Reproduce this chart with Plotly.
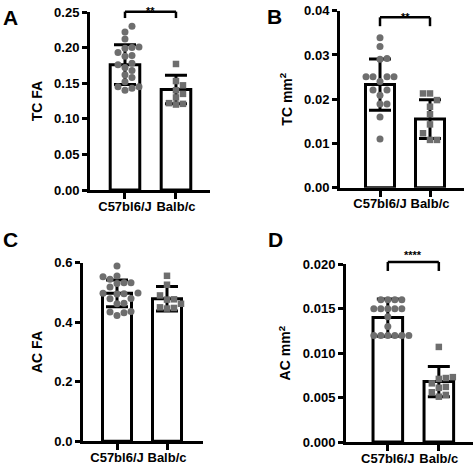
import plotly.graph_objects as go

W, H = 475, 465

groups = ["C57bl6/J", "Balb/c"]

# Panel A: TC FA
a_c57 = [0.230, 0.222, 0.212, 0.200, 0.199, 0.201, 0.193, 0.188, 0.189, 0.178,
         0.176, 0.172, 0.168, 0.162, 0.158, 0.152, 0.145, 0.143, 0.140, 0.145]
a_balb = [0.177, 0.153, 0.147, 0.140, 0.135, 0.130, 0.122, 0.120, 0.121]
a_mean = [0.176, 0.141]
a_sd = [0.028, 0.020]

# Panel B: TC mm2
b_c57 = [0.0339, 0.0319, 0.0292, 0.0290, 0.0251, 0.0251, 0.0251, 0.0251,
         0.0240, 0.0221, 0.0221, 0.0209, 0.0189, 0.0189, 0.0160, 0.0110]
b_balb = [0.0213, 0.0213, 0.0198, 0.0183, 0.0166, 0.0143, 0.0123, 0.0108, 0.0108]
b_mean = [0.0233, 0.0155]
b_sd = [0.0058, 0.0044]

# Panel C: AC FA
c_c57 = [0.589, 0.555, 0.553, 0.544, 0.533, 0.533, 0.530, 0.518, 0.497, 0.496,
         0.495, 0.498, 0.479, 0.480, 0.462, 0.464, 0.434, 0.436, 0.432, 0.423]
c_balb = [0.556, 0.526, 0.490, 0.477, 0.476, 0.462, 0.450, 0.448, 0.446]
c_mean = [0.497, 0.479]
c_sd = [0.045, 0.041]

# Panel D: AC mm2
d_c57 = [0.0160, 0.0160, 0.0160, 0.0160, 0.0150, 0.0150, 0.0150, 0.0150, 0.0150,
         0.0141, 0.0130, 0.0120, 0.0120, 0.0120, 0.0120, 0.0120, 0.0120]
d_balb = [0.0107, 0.0073, 0.0072, 0.0071, 0.0066, 0.0062, 0.0061, 0.0056, 0.0053, 0.0051]
d_mean = [0.0140, 0.0068]
d_sd = [0.0021, 0.0017]

# significance: (y of bracket, y of bracket feet, y of stars, label)
sig_a = (0.2505, 0.2415, 0.2625, "**")
sig_b = (0.0385, 0.0365, 0.0404, "**")
sig_d = (0.02026, 0.01925, 0.0211, "****")

panels = [
    dict(letter="A", title="TC FA", c57=a_c57, balb=a_balb, mean=a_mean, sd=a_sd,
         yr=[0, 0.25], dt=0.05, fmt=".2f", sig=sig_a,
         px=(90, 210), py=(12, 190), xr=[-0.686, 1.667], lpos=(1, 4)),
    dict(letter="B", title="TC mm<sup>2</sup>", c57=b_c57, balb=b_balb, mean=b_mean, sd=b_sd,
         yr=[0, 0.04], dt=0.01, fmt=".2f", sig=sig_b,
         px=(340, 464), py=(10.7, 187.7), xr=[-0.8, 1.68], lpos=(265, 3)),
    dict(letter="C", title="AC FA", c57=c_c57, balb=c_balb, mean=c_mean, sd=c_sd,
         yr=[0, 0.6], dt=0.2, fmt=".1f", sig=None,
         px=(83, 203), py=(262.7, 441.3), xr=[-0.68, 1.72], lpos=(1, 226)),
    dict(letter="D", title="AC mm<sup>2</sup>", c57=d_c57, balb=d_balb, mean=d_mean, sd=d_sd,
         yr=[0, 0.020], dt=0.005, fmt=".3f", sig=sig_d,
         px=(346, 473), py=(264.3, 442), xr=[-0.82, 1.67], lpos=(266, 226)),
]

DOT = "#6e6e6e"
FONT = "Liberation Sans, Arial, sans-serif"


def swarm(vals, py_per_unit, px_per_unit, diam):
    offs = [0.0] * len(vals)
    placed = []
    order = sorted(range(len(vals)), key=lambda i: vals[i])
    cands = [0.0]
    for k in range(1, 12):
        cands += [k * diam, -k * diam]
    for i in order:
        yv = vals[i] * py_per_unit
        for c in cands:
            if all((c - p) ** 2 + (yv - q) ** 2 >= (diam * 0.98) ** 2 for p, q in placed):
                offs[i] = c / px_per_unit
                placed.append((c, yv))
                break
    return offs


fig = go.Figure()
layout = dict(width=W, height=H, margin=dict(l=0, r=0, t=0, b=0), autosize=False,
              plot_bgcolor="white", paper_bgcolor="white", showlegend=False,
              font=dict(family=FONT, color="black", size=13, weight="bold"),
              shapes=[], annotations=[])

for n, p in enumerate(panels, start=1):
    xa = "x" if n == 1 else f"x{n}"
    ya = "y" if n == 1 else f"y{n}"
    xdom = [p["px"][0] / W, p["px"][1] / W]
    ydom = [1 - p["py"][1] / H, 1 - p["py"][0] / H]
    plot_h = p["py"][1] - p["py"][0]
    plot_w = p["px"][1] - p["px"][0]
    py_unit = plot_h / (p["yr"][1] - p["yr"][0])
    px_unit = plot_w / (p["xr"][1] - p["xr"][0])

    fig.add_trace(go.Bar(
        x=[0, 1], y=p["mean"], width=0.58, xaxis=xa, yaxis=ya,
        marker=dict(color="white", line=dict(color="black", width=3)),
        error_y=dict(type="data", array=p["sd"], symmetric=True, color="black",
                     thickness=3, width=11),
    ))
    for gi, (vals, sym, sz) in enumerate([(p["c57"], "circle", 7), (p["balb"], "square", 6.5)]):
        offs = swarm(vals, py_unit, px_unit, 7.0)
        fig.add_trace(go.Scatter(
            x=[gi + o for o in offs], y=vals, mode="markers", xaxis=xa, yaxis=ya,
            marker=dict(symbol=sym, size=sz, color=DOT, line=dict(width=0)),
            cliponaxis=False,
        ))

    nt = int(round((p["yr"][1] - p["yr"][0]) / p["dt"]))
    tv = [p["yr"][0] + k * p["dt"] for k in range(nt + 1)]
    layout["xaxis" if n == 1 else f"xaxis{n}"] = dict(
        domain=xdom, range=p["xr"], anchor=ya, tickmode="array", tickvals=[0, 1],
        ticktext=groups, showline=True, linecolor="black", linewidth=3,
        ticks="outside", ticklen=6, tickwidth=3, tickcolor="black",
        ticklabelstandoff=-4,
        showgrid=False, zeroline=False, automargin=False, fixedrange=True,
        tickfont=dict(family=FONT, size=13, color="black", weight="bold"),
    )
    layout["yaxis" if n == 1 else f"yaxis{n}"] = dict(
        domain=ydom, range=p["yr"], anchor=xa, tickmode="array", tickvals=tv,
        ticktext=[format(v, p["fmt"]) for v in tv], showline=True, linecolor="black",
        linewidth=3, ticks="outside", ticklen=5, tickwidth=3, tickcolor="black",
        showgrid=False, zeroline=False, automargin=False, fixedrange=True,
        tickfont=dict(family=FONT, size=13, color="black", weight="bold"),
        title=dict(text=p["title"], standoff=9,
                   font=dict(family=FONT, size=14, color="black", weight="bold")),
    )

    def to_paper(v):
        return ydom[0] + (v - p["yr"][0]) / (p["yr"][1] - p["yr"][0]) * (ydom[1] - ydom[0])

    if p["sig"]:
        ytop, yfoot, ystar, lab = p["sig"]
        yt, yf = to_paper(ytop), to_paper(yfoot)
        for (x0, y0, x1, y1) in [(0, yf, 0, yt), (0, yt, 1, yt), (1, yt, 1, yf)]:
            layout["shapes"].append(dict(type="line", xref=xa, yref="paper",
                                         x0=x0, y0=y0, x1=x1, y1=y1,
                                         line=dict(color="black", width=2.5)))
        layout["annotations"].append(dict(x=0.5, y=to_paper(ystar), xref=xa, yref="paper",
                                          text=lab, showarrow=False,
                                          font=dict(family=FONT, size=11, color="black",
                                                    weight="bold")))
    layout["annotations"].append(dict(x=p["lpos"][0] / W, y=1 - p["lpos"][1] / H,
                                      xref="paper", yref="paper", xanchor="left",
                                      yanchor="top", text=p["letter"], showarrow=False,
                                      font=dict(family=FONT, size=21, color="black",
                                                weight="bold")))

fig.update_layout(**layout)
fig.write_html("out.html", config={"displayModeBar": False},
               post_script="document.body.style.margin='0';")
